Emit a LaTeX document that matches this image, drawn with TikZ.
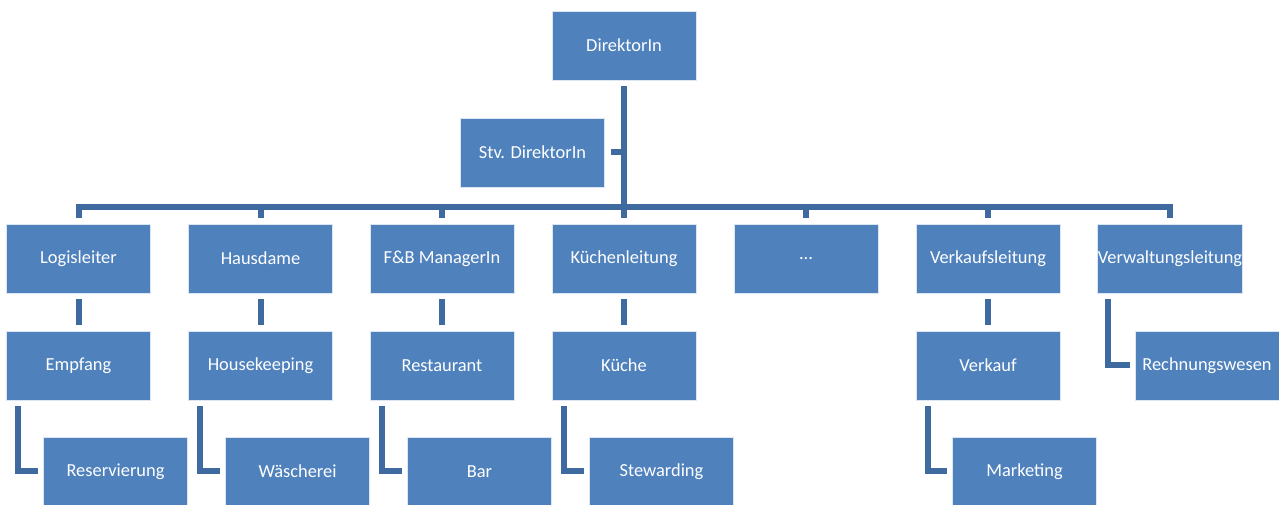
\documentclass[tikz,border=0pt]{standalone}
\usepackage{fontspec}
\setmainfont{Carlito}
\usepackage{tikz}
\usetikzlibrary{calc,positioning}
\definecolor{boxBlue}{RGB}{79,129,189}
\definecolor{lineBlue}{RGB}{63,106,160}

\begin{document}
\begin{tikzpicture}
[x=0.75pt,y=-0.75pt,
unit/.style={rectangle,fill=boxBlue,draw=white!80!boxBlue,line width=0.6pt,text=white,
  minimum width=108pt,minimum height=51.75pt,inner sep=0pt,font=\fontsize{13.8}{16}\selectfont},
link/.style={lineBlue,line width=4.5pt},
gapBoth/.style={shorten <=4.5pt,shorten >=4.5pt},
gapStart/.style={shorten <=4.5pt},
gapEnd/.style={shorten >=3.75pt}]
\useasboundingbox (0,0) rectangle (1279,505);
% top
\node[unit] (dir) at (624,45.5) {DirektorIn};
\node[unit] (stv) at (532.5,152.5) {Stv. DirektorIn};
% first level
\node[unit] (logis) at (78.5,258.5) {Logisleiter};
\node[unit] (haus) at (260.5,258.5) {Hausdame};
\node[unit] (fb) at (442,258.5) {F\&B ManagerIn};
\node[unit] (kuechenl) at (624,258.5) {Küchenleitung};
\node[unit] (dots) at (806,258.5) {...};
\node[unit] (verkaufsl) at (988,258.5) {Verkaufsleitung};
\node[unit] (verwaltl) at (1170,258.5) {Verwaltungsleitung};
% second level
\node[unit] (empf) at (78.5,365.5) {Empfang};
\node[unit] (hk) at (260.5,365.5) {Housekeeping};
\node[unit] (rest) at (442,365.5) {Restaurant};
\node[unit] (kueche) at (624,365.5) {Küche};
\node[unit] (verk) at (988,365.5) {Verkauf};
\node[unit] (rechn) at (1207,365.5) {Rechnungswesen};
% third level
\node[unit] (reserv) at (115.5,471.5) {Reservierung};
\node[unit] (waesch) at (297.5,471.5) {Wäscherei};
\node[unit] (bar) at (479.5,471.5) {Bar};
\node[unit] (stew) at (661.5,471.5) {Stewarding};
\node[unit] (mark) at (1024.5,471.5) {Marketing};

% trunk and bus
\draw[link,gapBoth] (dir) -- (kuechenl);
\draw[link,gapStart] (stv.east) -- (stv.east -| dir);
\draw[link,gapBoth] (logis.north) -- ++(0,-17) -| (verwaltl.north);
\draw[link,gapStart] (haus.north) -- ++(0,-17);
\draw[link,gapStart] (fb.north) -- ++(0,-17);
\draw[link,gapStart] (dots.north) -- ++(0,-17);
\draw[link,gapStart] (verkaufsl.north) -- ++(0,-17);

% first to second level
\draw[link,gapBoth] (logis) -- (empf);
\draw[link,gapBoth] (haus) -- (hk);
\draw[link,gapBoth] (fb) -- (rest);
\draw[link,gapBoth] (kuechenl) -- (kueche);
\draw[link,gapBoth] (verkaufsl) -- (verk);
\draw[link,gapStart,gapEnd] ([xshift=8.25pt]verwaltl.south west) |- (rechn.west);

% second to third level
\draw[link,gapStart,gapEnd] ([xshift=9pt]empf.south west) |- (reserv.west);
\draw[link,gapStart,gapEnd] ([xshift=9pt]hk.south west) |- (waesch.west);
\draw[link,gapStart,gapEnd] ([xshift=9pt]rest.south west) |- (bar.west);
\draw[link,gapStart,gapEnd] ([xshift=9pt]kueche.south west) |- (stew.west);
\draw[link,gapStart,gapEnd] ([xshift=9pt]verk.south west) |- (mark.west);
\end{tikzpicture}
\end{document}
